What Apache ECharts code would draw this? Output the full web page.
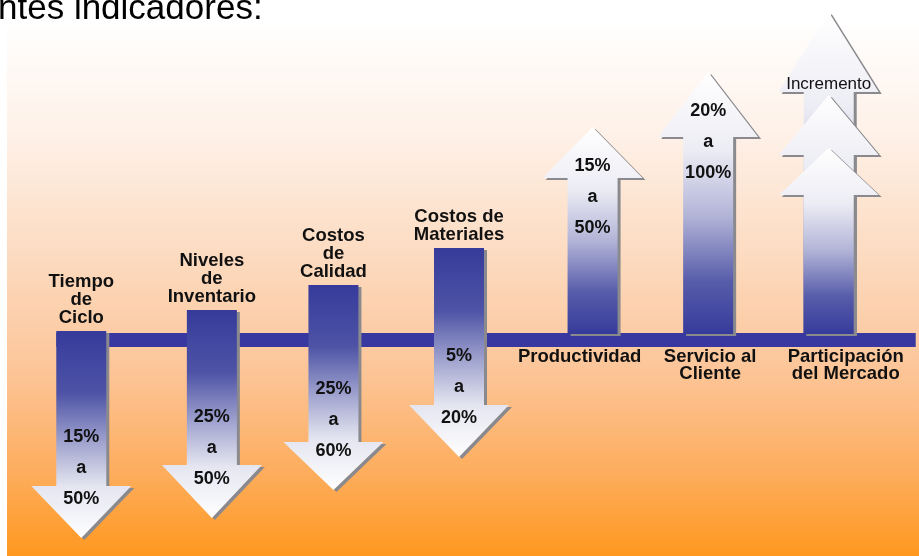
<!DOCTYPE html>
<html>
<head>
<meta charset="utf-8">
<script src="https://cdn.jsdelivr.net/npm/echarts@6/dist/echarts.min.js"></script>
<style>
  html, body { margin: 0; padding: 0; background: #fff; }
  #chart { width: 919px; height: 556px; }
</style>
</head>
<body>
<div id="chart"></div>
<script>
// indicadores
var categories = ['Tiempo de Ciclo', 'Niveles de Inventario', 'Costos de Calidad', 'Costos de Materiales',
    'Productividad', 'Servicio al Cliente', 'Participación del Mercado'];
var catLabels = ['Tiempo\nde\nCiclo', 'Niveles\nde\nInventario', 'Costos\nde\nCalidad', 'Costos de\nMateriales',
    'Productividad', 'Servicio al\nCliente', 'Participación\ndel Mercado'];
var rangeFrom = ['15%', '25%', '25%', '5%', '15%', '20%', ''];
var rangeTo = ['50%', '50%', '60%', '20%', '50%', '100%', ''];
// arrow start / tip, measured from the horizontal bar
var arrowBase = [9, 30, 55, 92, 6, 6, 6];
var arrowTip = [-198, -178, -150, -117, 213, 268, 192];
// extra stacked arrows for the last indicator
var stackTips = [328, 245];
var stackText = ['Incremento', ''];

// styles
var headMain = [52, 53, 48, 52, 51, 65, 47];
var headStack = [80, 60];
var arrowDx = [0, 6, 3, 4, 13, 4, 0];
var labelDx = [0, 0, 0, 0, -13, 2, 17];

var items = [];
for (var i = 0; i < categories.length; i++) {
    if (i === 6) {
        for (var k = 0; k < stackTips.length; k++) {
            items.push([i, arrowBase[i], stackTips[k], 1, k]);
        }
    }
    items.push([i, arrowBase[i], arrowTip[i], 0, 0]);
}

var FONT = 'Arial, "Liberation Sans", sans-serif';

function downGrad() {
    return new echarts.graphic.LinearGradient(0, 0, 0, 1, [
        { offset: 0, color: '#363b9b' },
        { offset: 0.3, color: '#4e53a6' },
        { offset: 0.55, color: '#a4a7d0' },
        { offset: 0.75, color: '#e4e5f0' },
        { offset: 1, color: '#ffffff' }
    ]);
}
function upGrad() {
    return new echarts.graphic.LinearGradient(0, 0, 0, 1, [
        { offset: 0, color: '#ffffff' },
        { offset: 0.3, color: '#ececf4' },
        { offset: 0.55, color: '#b2b4d7' },
        { offset: 0.8, color: '#575caa' },
        { offset: 1, color: '#363b9b' }
    ]);
}

function renderArrow(params, api) {
    var i = api.value(0);
    var base = api.value(1), tip = api.value(2);
    var kind = api.value(3), sk = api.value(4);
    var p0 = api.coord([i, base]);
    var p1 = api.coord([i, tip]);
    var cx = p0[0] + arrowDx[i];
    var down = tip < base;
    var h = kind === 1 ? headStack[sk] : headMain[i];
    var y0 = p0[1], yt = p1[1];
    var yh = down ? yt - h : yt + h;
    var sw = 25, hw = 50;
    var pts = [[cx - sw, y0], [cx + sw, y0], [cx + sw, yh], [cx + hw, yh], [cx, yt], [cx - hw, yh], [cx - sw, yh]];
    var shadow = pts.map(function (p) { return [p[0] + 3, p[1] + 2]; });
    var children = [
        { type: 'polygon', shape: { points: shadow }, style: { fill: '#8a8a8e' } },
        { type: 'polygon', shape: { points: pts }, style: { fill: down ? downGrad() : upGrad() } }
    ];
    var txtStyle = function (t, x, y) {
        return { type: 'text', x: x, y: y, style: { text: t, font: 'bold 18px ' + FONT, fill: '#111', align: 'center', verticalAlign: 'middle' } };
    };
    if (kind === 0) {
        if (rangeFrom[i]) {
            var mid = down ? yt - 70 : yt + 70;
            children.push(txtStyle(rangeFrom[i], cx, mid - 31));
            children.push(txtStyle('a', cx, mid));
            children.push(txtStyle(rangeTo[i], cx, mid + 31));
        }
        var lab;
        if (down) {
            lab = { type: 'text', x: cx + labelDx[i], y: y0 - 4, style: { text: catLabels[i], font: 'bold 18.5px ' + FONT, lineHeight: 18, fill: '#111', align: 'center', verticalAlign: 'bottom' } };
        } else {
            var yb = api.coord([i, 0])[1];
            lab = { type: 'text', x: cx + labelDx[i], y: yb + 8, style: { text: catLabels[i], font: 'bold 18.5px ' + FONT, lineHeight: 17, fill: '#111', align: 'center', verticalAlign: 'top' } };
        }
        children.push(lab);
    } else if (stackText[sk]) {
        children.push({ type: 'text', x: cx, y: yh - 8, style: { text: stackText[sk], font: '17px ' + FONT, fill: '#111', align: 'center', verticalAlign: 'middle' } });
    }
    return { type: 'group', children: children };
}

function renderBar(params, api) {
    var a = api.coord([0, 0]);
    var b = api.coord([categories.length - 1, 0]);
    var x0 = a[0] - 25, x1 = b[0] + 87;
    return { type: 'rect', shape: { x: x0, y: a[1] - 7, width: x1 - x0, height: 14 }, style: { fill: '#3838a0' } };
}

var chart = echarts.init(document.getElementById('chart'), null, { renderer: 'canvas' });
chart.setOption({
    backgroundColor: '#ffffff',
    animation: false,
    grid: { left: 19, right: 28, top: 0, bottom: 0 },
    xAxis: { type: 'category', data: categories, show: false },
    yAxis: { type: 'value', min: -216, max: 340, show: false },
    graphic: [
        {
            type: 'rect', z: -10, silent: true,
            shape: { x: 7, y: 27, width: 912, height: 529 },
            style: {
                fill: new echarts.graphic.LinearGradient(0, 0, 0, 1, [
                    { offset: 0, color: '#fffefd' },
                    { offset: 0.2, color: '#fef1e8' },
                    { offset: 0.45, color: '#fcd9bd' },
                    { offset: 0.65, color: '#fcc598' },
                    { offset: 0.85, color: '#fdac5a' },
                    { offset: 1, color: '#ff981f' }
                ])
            }
        },
        {
            type: 'text', z: -5, x: -2, y: 9,
            style: { text: 'ntes indicadores:', font: '35px ' + FONT, fill: '#000', verticalAlign: 'middle' }
        }
    ],
    series: [
        { type: 'custom', renderItem: renderBar, data: [[0, 0]], z: 2 },
        { type: 'custom', renderItem: renderArrow, data: items, z: 3 }
    ]
});
</script>
</body>
</html>
